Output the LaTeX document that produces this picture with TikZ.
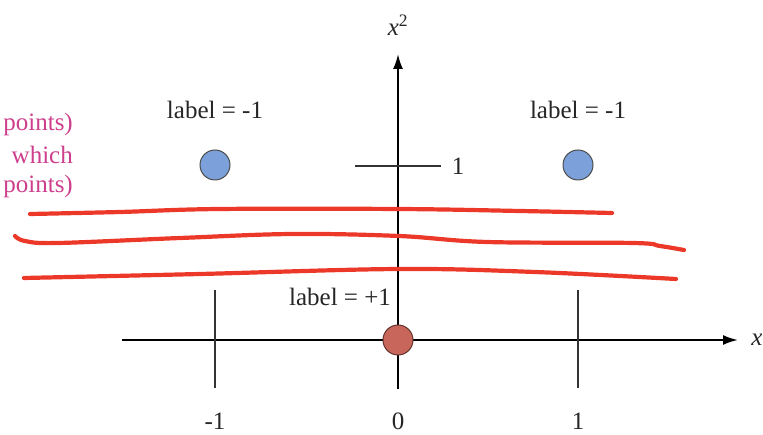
\documentclass[tikz,border=0pt]{standalone}
\usepackage{fontspec}
\setmainfont{Liberation Serif}
\usetikzlibrary{arrows.meta}
\definecolor{pinktxt}{RGB}{205,62,140}
\definecolor{redline}{RGB}{236,56,40}
\definecolor{bluept}{RGB}{124,161,218}
\definecolor{redpt}{RGB}{200,102,92}
\begin{document}
\begin{tikzpicture}[x=1pt,y=-1pt,
  txt/.style={font=\fontsize{25}{28}\selectfont, inner sep=0pt, text=black!85},
  pinknote/.style={font=\fontsize{25}{28}\selectfont, inner sep=0pt, text=pinktxt, anchor=east},
  axis/.style={line width=2pt, -{Latex[length=15pt,width=10pt]}},
  tick/.style={line width=1.3pt, black!80},
  bluedot/.style={circle, minimum size=30pt, inner sep=0pt, fill=bluept, draw=black!70, line width=1pt},
  reddot/.style={circle, minimum size=30pt, inner sep=0pt, fill=redpt, draw=black!50!redpt, line width=1pt},
  stroke/.style={redline, line width=4.2pt, line cap=round, line join=round}]
\useasboundingbox (0,0) rectangle (763,435);
% axes
\coordinate (hstart) at (122,340);
\coordinate (hend) at (738,340);
\coordinate (vstart) at (398,389);
\coordinate (vend) at (398,54);
\draw[axis] (hstart) -- (hend);
\draw[axis] (vstart) -- (vend);
\node[txt, font=\fontsize{25}{28}\selectfont\itshape] (xlab) at (757,340) {x};
\node[txt] (x2lab) at (398,25) {\textit{x}\textsuperscript{2}};
% ticks
\coordinate (tl1) at (215,290); \coordinate (tl2) at (215,388);
\coordinate (tr1) at (578,290); \coordinate (tr2) at (578,388);
\coordinate (th1) at (355,166); \coordinate (th2) at (441,166);
\draw[tick] (tl1) -- (tl2);
\draw[tick] (tr1) -- (tr2);
\draw[tick] (th1) -- (th2);
\node[txt] (one) at (458,166) {1};
\node[txt] (mone) at (215,421) {-1};
\node[txt] (zero) at (398,421) {0};
\node[txt] (pone) at (578,421) {1};
% points
\node[bluedot] (pl) at (215,165) {};
\node[bluedot] (pr) at (578,165) {};
\node[reddot] (po) at (398,340) {};
\node[txt] (ll) at (215,110) {label = -1};
\node[txt] (lr) at (578,110) {label = -1};
\node[txt] (lo) at (340,297) {label = +1};
% pink notes
\node[pinknote] (n1) at (73,124) {points)};
\node[pinknote] (n2) at (73,155) {which};
\node[pinknote] (n3) at (73,186) {points)};
% red strokes
\draw[stroke] plot[smooth, tension=0.6] coordinates {(30,214) (120,212) (219,209) (399,209) (520,211) (612,213)};
\draw[stroke] plot[smooth, tension=0.6] coordinates {(15,236) (25,241) (58,243) (180,238) (292,234) (399,236) (487,242) (633,243) (660,246) (684,250)};
\draw[stroke] plot[smooth, tension=0.6] coordinates {(24,278) (200,274) (399,269) (535,272) (676,279)};
\end{tikzpicture}
\end{document}
